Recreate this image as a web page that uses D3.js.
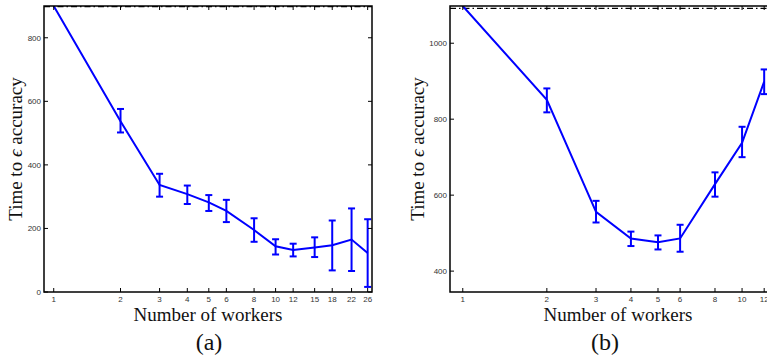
<!DOCTYPE html>
<html>
<head>
<meta charset="utf-8">
<script src="https://cdn.jsdelivr.net/npm/d3@7"></script>
<style>
  body { margin: 0; background: #fff; }
  svg { display: block; }
  .tick-label { font-family: "Liberation Sans", Arial, sans-serif; font-size: 8px; fill: #333; }
  .axis-title { font-family: "Liberation Serif", "DejaVu Serif", serif; font-size: 19px; fill: #111; }
</style>
</head>
<body>
<script>
// panel (a)
const workersA = [1, 2, 3, 4, 5, 6, 8, 10, 12, 15, 18, 22, 26];
const timeA    = [900, 537, 337, 308, 282, 255, 195, 144, 132, 140, 147, 165, 123];
const lowA     = [900, 502, 300, 277, 255, 220, 158, 118, 112, 110, 68, 66, 16];
const highA    = [900, 576, 372, 335, 305, 290, 232, 166, 152, 172, 225, 263, 229];
const xTicksA  = [1, 2, 3, 4, 5, 6, 8, 10, 12, 15, 18, 22, 26];
const yTicksA  = [0, 200, 400, 600, 800];
const refA     = 898;

// panel (b)
const workersB = [1, 2, 3, 4, 5, 6, 8, 10, 12];
const timeB    = [1098, 851, 556, 486, 476, 486, 629, 738, 899];
const lowB     = [1098, 818, 528, 466, 457, 451, 596, 700, 866];
const highB    = [1098, 881, 585, 504, 494, 522, 660, 780, 931];
const xTicksB  = [1, 2, 3, 4, 5, 6, 8, 10, 12];
const yTicksB  = [400, 600, 800, 1000];
const refB     = 1092;

const svg = d3.select('body').append('svg')
  .attr('width', 767)
  .attr('height', 358);

function drawPanel(opt) {
  const x = d3.scaleLog().domain(opt.xDomain).range([opt.left, opt.right]);
  const y = d3.scaleLinear().domain(opt.yDomain).range([opt.bottom, opt.top]);
  const g = svg.append('g');

  const clipId = 'clip-' + opt.name;
  svg.append('clipPath').attr('id', clipId)
    .append('rect')
    .attr('x', opt.left).attr('y', opt.top)
    .attr('width', opt.right - opt.left).attr('height', opt.bottom - opt.top);

  const plot = g.append('g').attr('clip-path', 'url(#' + clipId + ')');

  // reference line (dash-dot)
  plot.append('line')
    .attr('x1', opt.left).attr('x2', opt.right)
    .attr('y1', y(opt.ref)).attr('y2', y(opt.ref))
    .attr('stroke', '#000')
    .attr('stroke-width', 1.2)
    .attr('stroke-dasharray', '6,3,1.5,3');

  const pts = opt.xs.map((d, i) => ({ x: d, y: opt.ys[i], lo: opt.lo[i], hi: opt.hi[i] }));

  // line
  plot.append('path')
    .datum(pts)
    .attr('fill', 'none')
    .attr('stroke', '#0000ff')
    .attr('stroke-width', 2)
    .attr('d', d3.line().x(d => x(d.x)).y(d => y(d.y)));

  // error bars
  const eb = plot.selectAll('g.err')
    .data(pts.filter(d => d.hi > d.lo))
    .enter().append('g')
    .attr('class', 'err')
    .attr('stroke', '#0000ff')
    .attr('stroke-width', 2);
  eb.append('line')
    .attr('x1', d => x(d.x)).attr('x2', d => x(d.x))
    .attr('y1', d => y(d.lo)).attr('y2', d => y(d.hi));
  eb.append('line')
    .attr('x1', d => x(d.x) - 3.5).attr('x2', d => x(d.x) + 3.5)
    .attr('y1', d => y(d.lo)).attr('y2', d => y(d.lo));
  eb.append('line')
    .attr('x1', d => x(d.x) - 3.5).attr('x2', d => x(d.x) + 3.5)
    .attr('y1', d => y(d.hi)).attr('y2', d => y(d.hi));

  // box
  g.append('rect')
    .attr('x', opt.left).attr('y', opt.top)
    .attr('width', opt.right - opt.left).attr('height', opt.bottom - opt.top)
    .attr('fill', 'none')
    .attr('stroke', '#000')
    .attr('stroke-width', 1.5);

  // inward ticks, bottom and top
  opt.xTicks.forEach(t => {
    g.append('line')
      .attr('x1', x(t)).attr('x2', x(t))
      .attr('y1', opt.bottom).attr('y2', opt.bottom - 4)
      .attr('stroke', '#000');
    g.append('line')
      .attr('x1', x(t)).attr('x2', x(t))
      .attr('y1', opt.top).attr('y2', opt.top + 4)
      .attr('stroke', '#000');
    g.append('text')
      .attr('class', 'tick-label')
      .attr('x', x(t)).attr('y', opt.bottom + 10)
      .attr('text-anchor', 'middle')
      .text(t);
  });

  // inward ticks, left and right
  opt.yTicks.forEach(t => {
    g.append('line')
      .attr('x1', opt.left).attr('x2', opt.left + 4)
      .attr('y1', y(t)).attr('y2', y(t))
      .attr('stroke', '#000');
    g.append('line')
      .attr('x1', opt.right).attr('x2', opt.right - 4)
      .attr('y1', y(t)).attr('y2', y(t))
      .attr('stroke', '#000');
    g.append('text')
      .attr('class', 'tick-label')
      .attr('x', opt.left - 3).attr('y', y(t) + 3)
      .attr('text-anchor', 'end')
      .text(t);
  });

  // axis titles
  g.append('text')
    .attr('class', 'axis-title')
    .attr('x', opt.xTitleX).attr('y', opt.bottom + 29)
    .attr('text-anchor', 'middle')
    .text('Number of workers');

  const yt = g.append('text')
    .attr('class', 'axis-title')
    .attr('transform', 'translate(' + opt.yTitleX + ',' + ((opt.top + opt.bottom) / 2) + ') rotate(-90)')
    .attr('text-anchor', 'middle');
  yt.append('tspan').text('Time to ');
  yt.append('tspan').attr('font-style', 'italic').text('\u03F5');
  yt.append('tspan').text(' accuracy');

  g.append('text')
    .attr('class', 'axis-title')
    .attr('x', opt.capX).attr('y', opt.bottom + 58)
    .attr('text-anchor', 'middle')
    .style('font-size', '24px')
    .text(opt.caption);
}

drawPanel({
  name: 'a', caption: '(a)',
  xs: workersA, ys: timeA, lo: lowA, hi: highA, ref: refA,
  xTicks: xTicksA, yTicks: yTicksA,
  xDomain: [0.904, 27.2], yDomain: [0, 900],
  left: 44, right: 372, top: 6, bottom: 292,
  xTitleX: 208, yTitleX: 22, capX: 209
});

drawPanel({
  name: 'b', caption: '(b)',
  xs: workersB, ys: timeB, lo: lowB, hi: highB, ref: refB,
  xTicks: xTicksB, yTicks: yTicksB,
  xDomain: [0.9, 13.9], yDomain: [345, 1098],
  left: 450, right: 782, top: 6, bottom: 292,
  xTitleX: 618, yTitleX: 424, capX: 605
});
</script>
</body>
</html>
